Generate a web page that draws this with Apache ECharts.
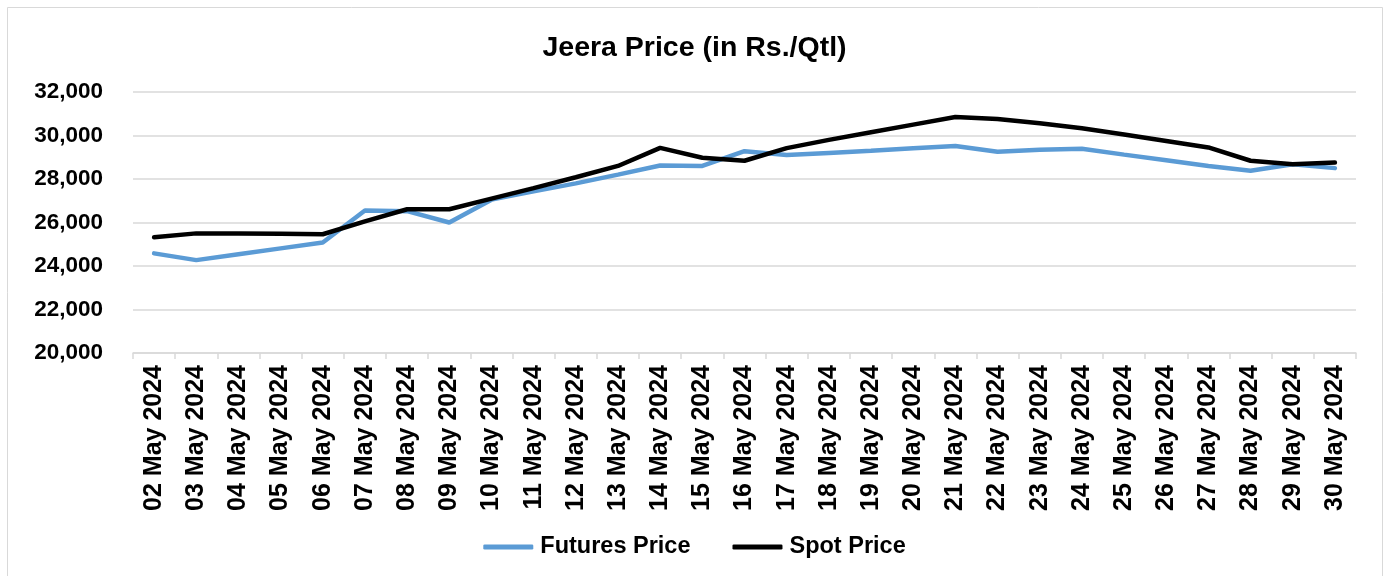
<!DOCTYPE html>
<html><head><meta charset="utf-8">
<script src="https://cdn.jsdelivr.net/npm/echarts@6/dist/echarts.min.js"></script>
<style>html,body{margin:0;padding:0;background:#fff}#c{width:1389px;height:576px}</style>
</head><body><div id="c"></div>
<script>
const categories = ['02 May 2024','03 May 2024','04 May 2024','05 May 2024','06 May 2024','07 May 2024','08 May 2024','09 May 2024','10 May 2024','11 May 2024','12 May 2024','13 May 2024','14 May 2024','15 May 2024','16 May 2024','17 May 2024','18 May 2024','19 May 2024','20 May 2024','21 May 2024','22 May 2024','23 May 2024','24 May 2024','25 May 2024','26 May 2024','27 May 2024','28 May 2024','29 May 2024','30 May 2024'];
const futuresPrice = [24580,24270,24540,24810,25080,26550,26520,26000,27050,27430,27800,28200,28620,28600,29280,29100,29200,29300,29410,29520,29250,29340,29390,29120,28860,28600,28380,28680,28500];
const spotPrice = [25320,25500,25490,25480,25460,26050,26610,26610,27100,27580,28080,28600,29430,28980,28840,29420,29800,30150,30500,30850,30760,30560,30330,30050,29750,29450,28840,28680,28760];
const yTicks = {min:20000, max:32000, interval:2000};

const chart = echarts.init(document.getElementById('c'));
chart.setOption({
  animation:false,
  backgroundColor:'#fff',
  graphic:[{type:'rect',shape:{x:7.5,y:7.5,width:1375,height:575},style:{fill:'none',stroke:'#d9d9d9',lineWidth:1},silent:true}],
  title:{text:'Jeera Price (in Rs./Qtl)',left:'center',top:29,textStyle:{fontFamily:'Liberation Sans, Arial',fontWeight:'bold',fontSize:28.5,color:'#000'}},
  legend:{top:530,left:'center',itemWidth:50,itemHeight:5,itemGap:42,icon:'roundRect',
    textStyle:{fontFamily:'Liberation Sans, Arial',fontWeight:'bold',fontSize:23.5,color:'#000',padding:[0,0,0,2]},
    data:['Futures Price','Spot Price']},
  grid:{left:133,right:33,top:92,bottom:223,containLabel:false},
  xAxis:{type:'category',data:categories,boundaryGap:true,
    axisLine:{lineStyle:{color:'#d9d9d9',width:1.5}},
    axisTick:{show:true,length:6,lineStyle:{color:'#d9d9d9',width:1.5}},
    axisLabel:{rotate:90,interval:0,margin:12,fontFamily:'Liberation Sans, Arial',fontWeight:'bold',fontSize:25,color:'#000'}},
  yAxis:{type:'value',min:yTicks.min,max:yTicks.max,interval:yTicks.interval,
    axisLine:{show:false},axisTick:{show:false},
    splitLine:{lineStyle:{color:'#d9d9d9',width:1.5}},
    axisLabel:{margin:30,fontFamily:'Liberation Sans, Arial',fontWeight:'bold',fontSize:22.5,color:'#000',
      formatter:v=>v.toLocaleString('en-US')}},
  series:[
    {name:'Futures Price',type:'line',data:futuresPrice,symbol:'none',lineStyle:{color:'#5B9BD5',width:4.5,cap:'round'},itemStyle:{color:'#5B9BD5'}},
    {name:'Spot Price',type:'line',data:spotPrice,symbol:'none',lineStyle:{color:'#000',width:4.5,cap:'round'},itemStyle:{color:'#000'}}
  ]
});
</script></body></html>
